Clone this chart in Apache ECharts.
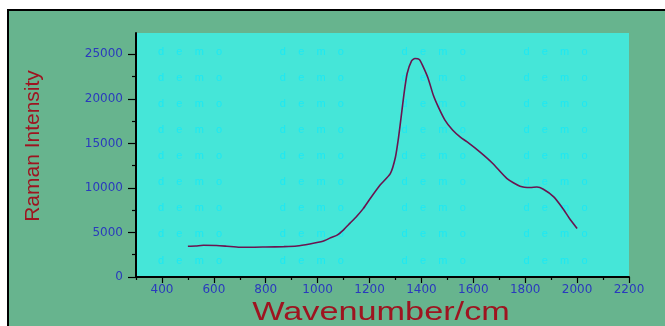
<!DOCTYPE html>
<html>
<head>
<meta charset="utf-8">
<script src="https://cdn.jsdelivr.net/npm/echarts@6/dist/echarts.min.js"></script>
<style>
html,body{margin:0;padding:0;background:#fff;width:665px;height:326px;overflow:hidden;}
#frame{position:absolute;left:7px;top:9px;width:700px;height:400px;background:#67B48E;border-left:2.5px solid #000;border-top:2px solid #000;}
#chart{position:absolute;left:0;top:0;width:665px;height:326px;}
</style>
</head>
<body>
<div id="frame"></div>
<div id="chart"></div>
<script>
// Data
const wavenumber = [500,530,560,610,650,700,740,800,870,920,970,1020,1050,1075,1100,1125,1150,1175,1200,1240,1280,1300,1312,1322,1333,1345,1362,1375,1392,1407,1426,1446,1465,1490,1520,1550,1575,1625,1675,1730,1780,1820,1845,1870,1910,1945,1970,2000];
const intensity  = [3450,3480,3560,3530,3450,3340,3340,3370,3410,3480,3710,4010,4400,4700,5300,6050,6800,7650,8700,10300,11600,13480,15700,18000,20600,22850,24270,24540,24430,23600,22300,20400,19100,17650,16500,15700,15200,14050,12750,11050,10200,10050,10100,9850,9000,7700,6600,5450];
const xTickLabels = [400,600,800,1000,1200,1400,1600,1800,2000,2200];
const xMinorTicks = [300,500,700,900,1100,1300,1500,1700,1900,2100];
const yTickLabels = [0,5000,10000,15000,20000,25000];
const yMinorTicks = [2500,7500,12500,17500,22500];
const xTitle = 'Wavenumber/cm';
const yTitle = 'Raman Intensity';
const watermark = 'd    e    m    o';

const chart = echarts.init(document.getElementById('chart'), null, {renderer:'canvas'});
const labelColor = '#2A3ABD';
const titleColor = '#9E1420';

const graphics = [];
for (let r = 0; r < 9; r++) {
  for (let c = 0; c < 4; c++) {
    graphics.push({
      type:'text', z:1, silent:true,
      x: 158 + c*121.8, y: 51.7 + r*26.1,
      style:{text:watermark, fill:'#1EE8F2', font:'11px "Liberation Sans", Arial, sans-serif', verticalAlign:'middle', align:'left'}
    });
  }
}
graphics.push({
  type:'text', z:5, x:381, y:313, scaleX:1.37, scaleY:1, originX:0, originY:0,
  style:{text:xTitle, fill:titleColor, font:'25px "Liberation Sans", Arial, sans-serif', align:'center', verticalAlign:'middle'}
});
graphics.push({
  type:'text', z:5, x:33, y:146, rotation:Math.PI/2,
  style:{text:yTitle, fill:titleColor, font:'21px "Liberation Sans", Arial, sans-serif', align:'center', verticalAlign:'middle'}
});

const axisLabelStyle = {color:labelColor, fontFamily:'DejaVu Sans', fontSize:12, formatter:(v)=>String(v)};

chart.setOption({
  animation:false,
  backgroundColor:'transparent',
  grid:{left:136, right:36, top:33, bottom:49, show:true, backgroundColor:'#45E6D8', borderWidth:0},
  graphic: graphics,
  xAxis:[{
    type:'value', min:300, max:2200, interval:100,
    axisLine:{show:true, onZero:false, lineStyle:{color:'#000', width:2}},
    axisTick:{show:true, customValues:xTickLabels, length:6, lineStyle:{color:'#000', width:1.2}},
    axisLabel:{show:true, customValues:xTickLabels, margin:7, ...axisLabelStyle},
    splitLine:{show:false}
  },{
    type:'value', min:300, max:2200, interval:100, position:'bottom',
    axisLine:{show:false},
    axisTick:{show:true, customValues:xMinorTicks, length:3, lineStyle:{color:'#000', width:1.2}},
    axisLabel:{show:false},
    splitLine:{show:false}
  }],
  yAxis:[{
    type:'value', min:0, max:27400, interval:5000,
    axisLine:{show:true, onZero:false, lineStyle:{color:'#000', width:2}},
    axisTick:{show:true, customValues:yTickLabels, length:8, lineStyle:{color:'#000', width:1.2}},
    axisLabel:{show:true, customValues:yTickLabels, margin:13, ...axisLabelStyle},
    splitLine:{show:false}
  },{
    type:'value', min:0, max:27400, interval:5000, position:'left', offset:0,
    axisLine:{show:false},
    axisTick:{show:true, customValues:yMinorTicks, length:4, lineStyle:{color:'#000', width:1.2}},
    axisLabel:{show:false},
    splitLine:{show:false}
  }],
  series:[{
    type:'line', xAxisIndex:0, yAxisIndex:0, z:3,
    data: wavenumber.map((w,i)=>[w, intensity[i]]),
    showSymbol:false, smooth:0.2,
    lineStyle:{color:'#6A1450', width:1.6}
  }]
});
</script>
</body>
</html>
